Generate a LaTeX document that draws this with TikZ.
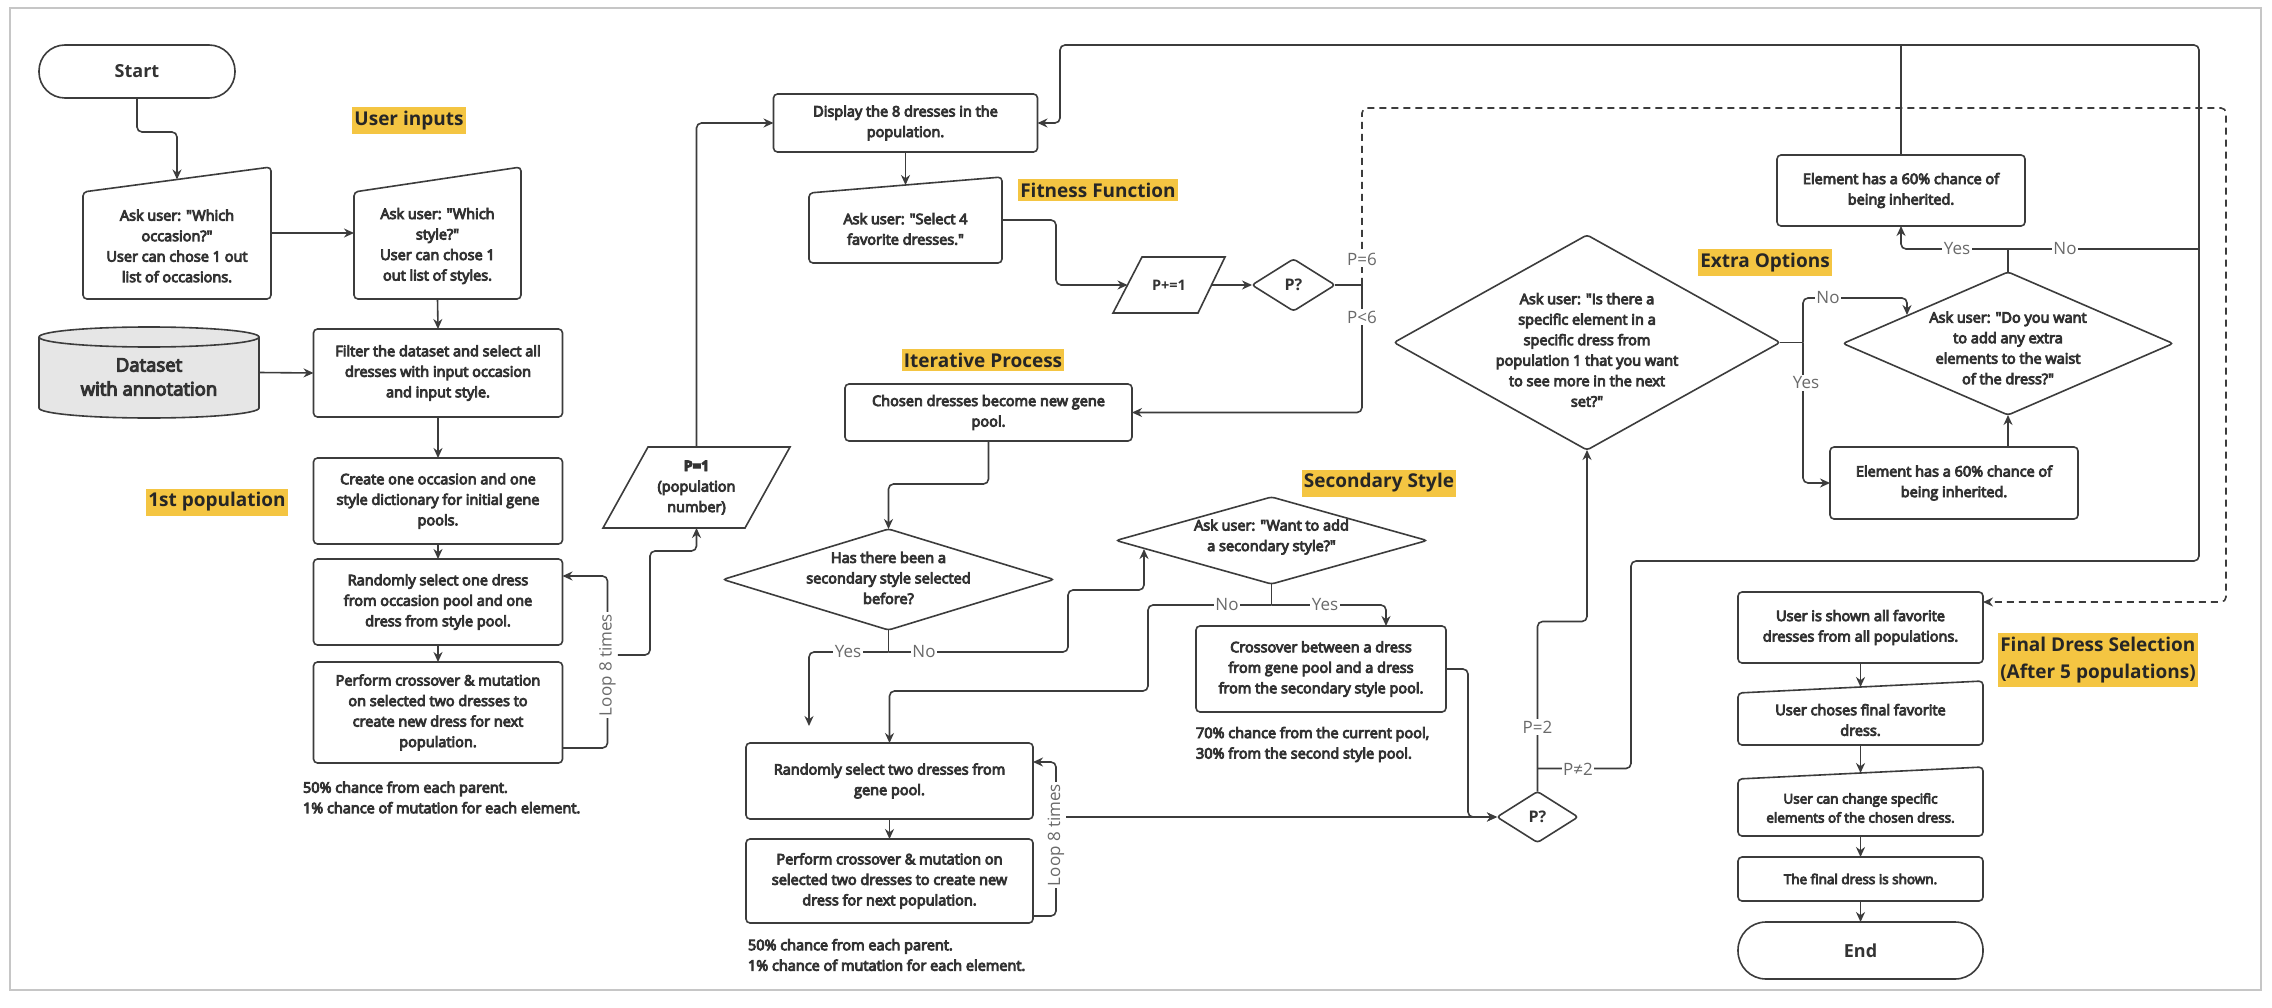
\documentclass[tikz,border=0pt]{standalone}
\usepackage{fontspec}
\setmainfont{Open Sans}
\newfontfamily\semi{Open Sans}[FakeBold=6]
\newfontfamily\semib{Open Sans}[FakeBold=6]
\usetikzlibrary{shapes.geometric, arrows.meta}
\definecolor{lc}{HTML}{3C3C3C}
\definecolor{tc}{HTML}{333333}
\definecolor{lblc}{HTML}{6A6A6A}
\definecolor{hly}{HTML}{F4C542}
\definecolor{dsg}{HTML}{E6E6E6}
\definecolor{brd}{HTML}{C6C6C6}
\tikzset{
  every node/.style={inner sep=0pt, outer sep=0pt},
  shp/.style={draw=lc, line width=1.6pt, fill=white},
  box/.style={shp, rectangle, rounded corners=4pt, align=center, font=\semi\fontsize{14.5}{20.5}\selectfont, text=tc},
  dia/.style={shp, diamond, rounded corners=3pt},
  txt/.style={align=center, font=\semi\fontsize{14.5}{20.5}\selectfont, text=tc},
  hl/.style={fill=hly, text=black!85, font=\bfseries\fontsize{19}{27}\selectfont, inner xsep=2pt, inner ysep=4pt},
  lbl/.style={fill=white, text=lblc, font=\fontsize{17}{20}\selectfont, inner sep=1.5pt},
  note/.style={align=left, anchor=west, font=\semi\fontsize{14.5}{20.5}\selectfont, text=tc},
  wire/.style={draw=lc, line width=1.6pt, rounded corners=5pt},
  conn/.style={wire, -{Stealth[length=10pt,width=9pt]}},
  loopl/.style={fill=white, text=lblc, rotate=90, font=\fontsize{17}{20}\selectfont, inner sep=2pt},
}
\begin{document}
\begin{tikzpicture}[x=1pt,y=-1pt]
\useasboundingbox (0,0) rectangle (2272,1008);
\fill[white] (0,0) rectangle (2272,1008);
\draw[brd, line width=2pt] (10,8) rectangle (2261,990);

% ---------- titles ----------
\node[hl] (tuser) at (409,121) {User inputs};
\node[hl] (tfirst) at (217,502) {1st population};
\node[hl] (tfit) at (1098,190) {Fitness Function};
\node[hl] (titer) at (983,360) {Iterative Process};
\node[hl] (tsec) at (1379,483) {Secondary Style};
\node[hl] (textra) at (1765,263) {Extra Options};
\node[hl, align=left] (tfinal) at (2098,660) {Final Dress Selection\\(After 5 populations)};

% ---------- left column ----------
\node[box, rounded corners=26pt, minimum width=196pt, minimum height=53pt, font=\bfseries\fontsize{18}{22}\selectfont] (start) at (137,71.5) {Start};

\node[minimum width=188pt, minimum height=132pt] (q1) at (177,233) {};
\draw[shp, rounded corners=4pt] (83,192) -- (271,167) -- (271,299) -- (83,299) -- cycle;
\node[txt] (q1t) at (177,246) {Ask user: "Which\\occasion?"\\User can chose 1 out\\list of occasions.};

\node[minimum width=167pt, minimum height=132pt] (q2) at (437.5,233) {};
\draw[shp, rounded corners=4pt] (354,192) -- (521,167) -- (521,299) -- (354,299) -- cycle;
\node[txt] (q2t) at (437.5,246) {Ask user: "Which\\style?"\\User can chose 1\\out list of styles.};

\node[minimum width=220pt, minimum height=91pt] (dataset) at (149,372.5) {};
\draw[draw=lc, line width=1.6pt, fill=dsg] (39,337) -- (39,408) arc[start angle=180,end angle=360,x radius=110pt,y radius=10pt] -- (259,337) arc[start angle=0,end angle=180,x radius=110pt,y radius=10pt] -- cycle;
\draw[draw=lc, line width=1.6pt] (39,337) arc[start angle=180,end angle=360,x radius=110pt,y radius=10pt];
\node[align=center, font=\semib\fontsize{18.5}{24}\selectfont, text=tc] (datasett) at (149,377) {Dataset\\with annotation};

\node[box, minimum width=249pt, minimum height=88pt] (filter) at (438,373) {Filter the dataset and select all\\dresses with input occasion\\and input style.};
\node[box, minimum width=249pt, minimum height=86pt] (create) at (438,501) {Create one occasion and one\\style dictionary for initial gene\\pools.};
\node[box, minimum width=249pt, minimum height=86pt] (random1) at (438,602) {Randomly select one dress\\from occasion pool and one\\dress from style pool.};
\node[box, minimum width=249pt, minimum height=101pt] (perform1) at (438,712.5) {Perform crossover \& mutation\\on selected two dresses to\\create new dress for next\\population.};
\node[note] (notes1) at (303,797.5) {50\% chance from each parent.\\1\% chance of mutation for each element.};

\node[minimum width=187pt, minimum height=81pt] (p1) at (696.5,487.5) {};
\draw[shp] (648,447) -- (790,447) -- (745,528) -- (603,528) -- cycle;
\node[txt] (p1t) at (696.5,487.5) {\bfseries P=1\\(population\\number)};

% ---------- middle ----------
\node[box, minimum width=264pt, minimum height=58pt] (display) at (905.5,123) {Display the 8 dresses in the\\population.};

\node[minimum width=193pt, minimum height=86pt] (ask4) at (905.5,220) {};
\draw[shp, rounded corners=4pt] (809,193) -- (1002,177) -- (1002,263) -- (809,263) -- cycle;
\node[txt] (ask4t) at (905.5,229) {Ask user: "Select 4\\favorite dresses."};

\node[minimum width=112pt, minimum height=56pt] (pinc) at (1169,285) {};
\draw[shp] (1142,257) -- (1225,257) -- (1198,313) -- (1113,313) -- cycle;
\node[txt, font=\bfseries\fontsize{14.5}{20.5}\selectfont] (pinct) at (1169,285) {P+=1};

\node[dia, minimum width=83pt, minimum height=52pt, font=\bfseries\fontsize{16}{20}\selectfont, text=tc] (pq1) at (1293.5,285) {P?};

\node[box, minimum width=287pt, minimum height=57pt] (chosen) at (988.5,412.5) {Chosen dresses become new gene\\pool.};

\node[dia, minimum width=331pt, minimum height=101pt] (has) at (888.5,579.5) {};
\node[txt] (hast) at (888.5,578) {Has there been a\\secondary style selected\\before?};

\node[dia, minimum width=311pt, minimum height=87pt] (secd) at (1271.5,540.5) {};
\node[txt] (secdt) at (1271.5,537) {Ask user: "Want to add\\a secondary style?"};

\node[box, minimum width=250pt, minimum height=86pt] (crossover) at (1321,669) {Crossover between a dress\\from gene pool and a dress\\from the secondary style pool.};
\node[note] (notes2) at (1196,744.5) {70\% chance from the current pool,\\30\% from the second style pool.};

\node[box, minimum width=287pt, minimum height=76pt] (random2) at (889.5,781) {Randomly select two dresses from\\gene pool.};
\node[box, minimum width=287pt, minimum height=84pt] (perform2) at (889.5,881) {Perform crossover \& mutation on\\selected two dresses to create new\\dress for next population.};
\node[note] (notes3) at (748,955) {50\% chance from each parent.\\1\% chance of mutation for each element.};

\node[dia, minimum width=81pt, minimum height=51pt, font=\bfseries\fontsize{16}{20}\selectfont, text=tc] (pq2) at (1537.5,817) {P?};

% ---------- right ----------
\node[dia, minimum width=386pt, minimum height=215pt] (bigd) at (1587,342.5) {};
\node[txt] (bigdt) at (1587,350) {Ask user: "Is there a\\specific element in a\\specific dress from\\population 1 that you want\\to see more in the next\\set?"};

\node[box, minimum width=248pt, minimum height=71pt] (e1) at (1901,190.5) {Element has a 60\% chance of\\being inherited.};
\node[dia, minimum width=330pt, minimum height=143pt] (waist) at (2008,343.5) {};
\node[txt] (waistt) at (2008,348) {Ask user: "Do you want\\to add any extra\\elements to the waist\\of the dress?"};
\node[box, minimum width=248pt, minimum height=72pt] (e2) at (1954,483) {Element has a 60\% chance of\\being inherited.};

\node[box, minimum width=245pt, minimum height=71pt] (f1) at (1860.5,627.5) {User is shown all favorite\\dresses from all populations.};
\node[minimum width=245pt, minimum height=64pt] (f2) at (1860.5,713) {};
\draw[shp, rounded corners=4pt] (1738,693) -- (1983,681) -- (1983,745) -- (1738,745) -- cycle;
\node[txt] (f2t) at (1860.5,720) {User choses final favorite\\dress.};
\node[minimum width=245pt, minimum height=69pt] (f3) at (1860.5,801.5) {};
\draw[shp, rounded corners=4pt] (1738,779) -- (1983,767) -- (1983,836) -- (1738,836) -- cycle;
\node[txt, font=\semi\fontsize{13.5}{19}\selectfont] (f3t) at (1860.5,808) {User can change specific\\elements of the chosen dress.};
\node[box, minimum width=245pt, minimum height=44pt, font=\semi\fontsize{13.5}{19}\selectfont] (f4) at (1860.5,879) {The final dress is shown.};
\node[box, rounded corners=28pt, minimum width=245pt, minimum height=57pt, font=\bfseries\fontsize{18}{22}\selectfont] (end) at (1860.5,950.5) {End};

% ---------- connectors ----------
\draw[conn] (start.south) -- ++(0,34) -| ([yshift=-12.5pt]q1.north);
\draw[conn] (q1.east) -- (q2.west);
\draw[conn] (q2.south) -- (filter.north);
\draw[conn] (dataset.east) -- (filter.west);
\draw[conn] (filter.south) -- (create.north);
\draw[conn] (create.south) -- (random1.north);
\draw[conn] (random1.south) -- (perform1.north);
\draw[conn] ([yshift=-35.5pt]perform1.east) -- ++(45,0) |- ([yshift=26pt]random1.east);
\node[loopl] (loop1) at (607.5,665) {Loop 8 times};
\draw[conn] ([yshift=10pt]loop1.south) -- (650,655) -- (650,551) -- (696.5,551) -- (p1.south);
\draw[conn] (p1.north) |- (display.west);
\draw[conn] (display.south) -- ([yshift=-8pt]ask4.north);
\draw[conn] (ask4.east) -- (1056,220) |- ([xshift=14.5pt]pinc.west);
\draw[conn] ([xshift=-13.5pt]pinc.east) -- (pq1.west);
\draw[wire] (pq1.east) -- (1362,285) coordinate (pqj);
\coordinate (dtr) at (2226,108);
\draw[conn, dash pattern=on 7pt off 5pt] (pqj) |- (dtr) |- ([yshift=25.5pt]f1.east);
\draw[conn] (pqj) |- (chosen.east);
\node[lbl] (lp6) at (1362,259) {P=6};
\node[lbl] (lp6b) at (1362,317) {P<6};

\draw[conn] (chosen.south) -- ++(0,43) -| (has.north);
\draw[wire] (has.south) -- ++(0,22) coordinate (hasj);
\coordinate (yesend) at (809,726);
\coordinate (secin) at (1144,549);
\draw[conn] (hasj) -| (yesend);
\draw[conn] (hasj) -- (1068,652) -- (1068,590) -- (1144,590) -- (secin);
\node[lbl] (lhy) at (848,652) {Yes};
\node[lbl] (lhn) at (924,652) {No};

\draw[wire] (secd.south) -- ++(0,21) coordinate (secj);
\draw[conn] (secj) -- (1148,605) -- (1148,691) -| (random2.north);
\draw[conn] (secj) -| ([xshift=65pt]crossover.north);
\node[lbl] (lsn) at (1227,605) {No};
\node[lbl] (lsy) at (1325,605) {Yes};

\draw[conn] (crossover.east) -- (1468,669) |- (pq2.west);
\draw[conn] (random2.south) -- (perform2.north);
\draw[conn] ([yshift=-35pt]perform2.east) -- ++(23,0) |- ([yshift=19pt]random2.east);
\node[loopl] (loop2) at (1056,835) {Loop 8 times};
\draw[conn] (loop2.south |- pq2.west) -- (pq2.west);

\draw[conn] (pq2.north) -- ++(0,-170) -| (bigd.south);
\coordinate (pq2j) at ([yshift=23pt]pq2.north);
\draw[conn] (pq2j) -| (1631,561) -| (2199,45) -| (1060,123) -- (display.east);
\node[lbl] (lp2) at (1537.5,727) {P=2};
\node[lbl] (lpn2) at (1578,769) {P≠2};

\draw[wire] (e1.north) -- (1901,45);
\draw[wire] (waist.north) -- ++(0,-23) coordinate (wj);
\draw[conn] (wj) -| (e1.south);
\draw[wire] (wj) -- (2199,249);
\node[lbl] (lwy) at (1957,249) {Yes};
\node[lbl] (lwn) at (2065,249) {No};

\draw[wire] (bigd.east) -- ++(23,0) coordinate (bj);
\coordinate (waistin) at (1907,315);
\draw[conn] (bj) |- (1907,298) -- (waistin);
\draw[conn] (bj) |- (e2.west);
\node[lbl] (lbn) at (1828,298) {No};
\node[lbl] (lby) at (1806,383) {Yes};
\draw[conn] (e2.north -| waist.south) -- (waist.south);

\draw[conn] (f1.south) -- ([yshift=-6pt]f2.north);
\draw[conn] (f2.south) -- ([yshift=-6pt]f3.north);
\draw[conn] (f3.south) -- (f4.north);
\draw[conn] (f4.south) -- (end.north);
\end{tikzpicture}
\end{document}
